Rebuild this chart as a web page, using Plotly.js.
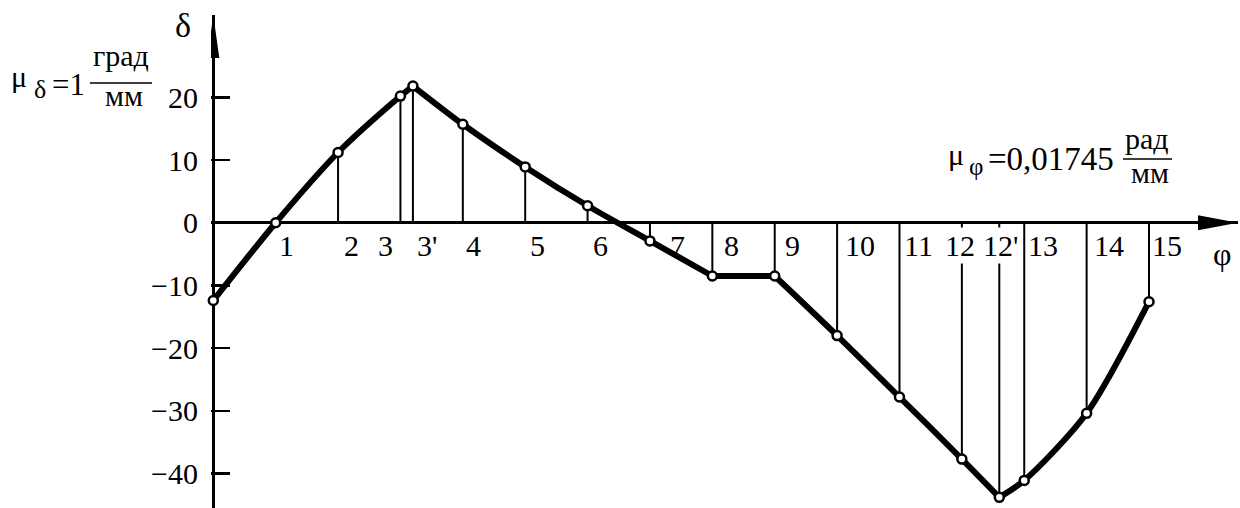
<!DOCTYPE html>
<html>
<head>
<meta charset="utf-8">
<script src="https://cdn.plot.ly/plotly-3.0.1.min.js"></script>
<style>html,body{margin:0;padding:0;background:#fff}</style>
</head>
<body>
<div id="chart" style="width:1240px;height:508px"></div>
<script>
// Rotation angle φ (divisions of the abscissa) and deviation δ, degrees
const phi   = [0, 1, 2, 3, 3.2, 4, 5, 6, 7, 8, 9, 10, 11, 12, 12.6, 13, 14, 15];
const delta = [-12.4, 0, 11.2, 20.2, 21.8, 15.7, 8.9, 2.7, -2.9, -8.5, -8.5,
               -18.0, -27.8, -37.7, -43.8, -41.1, -30.4, -12.6];
const pointLabels = [null, '1', '2', '3', "3'", '4', '5', '6', '7', '8', '9',
                     '10', '11', '12', "12'", '13', '14', '15'];
const yTickVals = [-40, -30, -20, -10, 0, 10, 20];
const yTickText = ['−40', '−30', '−20', '−10', '0', '10', '20'];

// Curve pieces (first/last point index); each piece is smoothed on its own
const pieces = [[0, 4], [4, 9], [9, 10], [10, 14], [14, 17]];
// Horizontal nudge of each position number, px
const labelShift = [0, 11, 13, -15, 14, 11, 12, 13, 28, 19, 18, 23, 19, -2, 1, 19, 22, 18];

const FONT = 'Liberation Serif';
const W = 1240, H = 508;
const M = {l: 211, r: 2, t: 15, b: 0};
const pw = W - M.l - M.r, ph = H - M.t - M.b;
const pxPerUnit = 62.38;
const xStart = -2.3 / pxPerUnit;   // small room left of φ = 0 so the δ axis line is drawn whole
const px = x => (x - M.l) / pw;
const py = y => 1 - (y - M.t) / ph;

const traces = [];

// ordinates from the abscissa to every point
const ox = [], oy = [];
phi.forEach((p, i) => {
  if (i === 0 || delta[i] === 0) return;
  ox.push(p, p, null);
  oy.push(0, delta[i], null);
});
traces.push({x: ox, y: oy, mode: 'lines', line: {color: '#000', width: 2},
             hoverinfo: 'skip', cliponaxis: false});

// the thick curve
pieces.forEach(([a, b]) => {
  traces.push({
    x: phi.slice(a, b + 1), y: delta.slice(a, b + 1),
    mode: 'lines', line: {color: '#000', width: 6, shape: 'spline', smoothing: 0.8},
    hoverinfo: 'skip', cliponaxis: false
  });
});

// point markers
traces.push({
  x: phi, y: delta, mode: 'markers', cliponaxis: false,
  marker: {size: 9, color: '#fff', line: {color: '#000', width: 2.5}}
});

const annotations = [];
phi.forEach((p, i) => {
  if (!pointLabels[i]) return;
  const boxed = pointLabels[i].startsWith('12');
  annotations.push({
    x: p, y: 0, xref: 'x', yref: 'y', text: pointLabels[i], showarrow: false,
    xanchor: 'center', yanchor: 'middle', xshift: labelShift[i], yshift: -23,
    font: {family: FONT, size: 30, color: '#000'},
    bgcolor: boxed ? '#fff' : 'rgba(0,0,0,0)', borderpad: 1
  });
});

function txt(t, x, y, size, anchor) {
  annotations.push({
    text: t, xref: 'paper', yref: 'paper', x: px(x), y: py(y), showarrow: false,
    xanchor: anchor || 'center', yanchor: 'middle',
    font: {family: FONT, size: size, color: '#000'}
  });
}
// axis names
txt('δ', 183, 26, 34);
txt('φ', 1222, 254, 32);
// scale of the δ axis
txt('μ', 19, 76, 30);
txt('δ', 40, 89, 26);
txt('=1', 50, 84, 31, 'left');
txt('град', 121, 56, 30);
txt('мм', 124, 95, 30);
// scale of the φ axis
txt('μ', 956, 155, 30);
txt('φ', 976, 166, 25);
txt('=0,01745', 986, 159, 33, 'left');
txt('рад', 1147, 138, 30);
txt('мм', 1150, 172, 30);

const shapes = [
  // arrow heads of the axes
  {type: 'path', xref: 'paper', yref: 'y', xsizemode: 'pixel', ysizemode: 'pixel',
   xanchor: 1, yanchor: 0, path: 'M0,0 L-40,7.5 L-40,-7.5 Z',
   fillcolor: '#000', line: {width: 0}},
  {type: 'path', xref: 'x', yref: 'paper', xsizemode: 'pixel', ysizemode: 'pixel',
   xanchor: 0, yanchor: 1, path: 'M0,0 L-6,-43 L6,-43 Z',
   fillcolor: '#000', line: {width: 0}},
  // fraction bars
  {type: 'line', xref: 'paper', yref: 'paper', x0: px(90), x1: px(152), y0: py(83), y1: py(83),
   line: {color: '#000', width: 1.5}},
  {type: 'line', xref: 'paper', yref: 'paper', x0: px(1123), x1: px(1172), y0: py(159), y1: py(159),
   line: {color: '#000', width: 1.5}}
];

const layout = {
  width: W, height: H, margin: M, showlegend: false,
  paper_bgcolor: '#fff', plot_bgcolor: '#fff',
  font: {family: FONT, color: '#000'},
  // the vertical δ axis line is the zero line of φ
  xaxis: {
    range: [xStart, xStart + pw / pxPerUnit], showticklabels: false, ticks: '',
    showgrid: false, showline: false,
    zeroline: true, zerolinewidth: 3, zerolinecolor: '#000', fixedrange: true
  },
  yaxis: {
    range: [-45.5, 33.13], tickvals: yTickVals, ticktext: yTickText,
    ticks: 'inside', ticklen: 19, tickwidth: 2.5, tickcolor: '#000',
    showline: false,
    zeroline: true, zerolinewidth: 3, zerolinecolor: '#000',
    showgrid: false, ticklabelstandoff: 12,
    tickfont: {family: FONT, size: 30, color: '#000'}, fixedrange: true
  },
  annotations: annotations,
  shapes: shapes
};

Plotly.newPlot('chart', traces, layout, {staticPlot: true, displayModeBar: false});
</script>
</body>
</html>
